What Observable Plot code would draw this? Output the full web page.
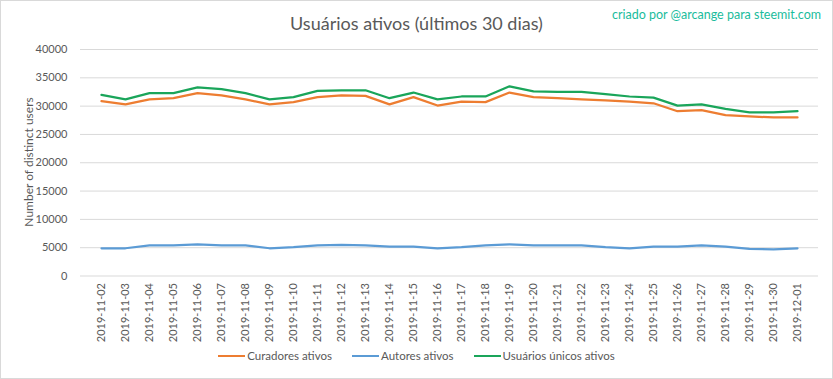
<!DOCTYPE html>
<html><head><meta charset="utf-8">
<script src="https://cdn.jsdelivr.net/npm/d3@7"></script>
<script src="https://cdn.jsdelivr.net/npm/@observablehq/plot@0.6"></script>
<style>
body{margin:0;background:#fff;font-family:Lato,"Open Sans",sans-serif;}
#wrap{position:relative;width:833px;height:379px;overflow:hidden;background:#fff;}
#frame{position:absolute;left:0;top:0;width:831px;height:377px;border:1px solid #d9d9d9;pointer-events:none;}
#title{position:absolute;left:0;top:12px;width:833px;text-align:center;font-size:18px;color:#595959;}
#credit{position:absolute;right:12px;top:7px;font-size:12.5px;color:#1abc9c;}
#ylab{position:absolute;left:28px;top:162px;transform:translate(-50%,-50%) rotate(-90deg);white-space:nowrap;font-size:12px;color:#595959;}
#legend{position:absolute;left:0;top:349px;width:833px;display:flex;justify-content:center;font-size:11.5px;color:#595959;}
.item{display:flex;align-items:center;margin:0 10px;}
.sw{display:inline-block;width:27px;height:2px;margin-right:2px;}
#chart{position:absolute;left:0;top:0;}
</style>
</head><body>
<div id="wrap">
<div id="chart"></div>
<div id="title">Usuários ativos (últimos 30 dias)</div>
<div id="credit">criado por @arcange para steemit.com</div>
<div id="ylab">Number of distinct users</div>
<div id="legend"></div>
<div id="frame"></div>
</div>
<script>
const dates = ["2019-11-02","2019-11-03","2019-11-04","2019-11-05","2019-11-06","2019-11-07","2019-11-08","2019-11-09","2019-11-10","2019-11-11","2019-11-12","2019-11-13","2019-11-14","2019-11-15","2019-11-16","2019-11-17","2019-11-18","2019-11-19","2019-11-20","2019-11-21","2019-11-22","2019-11-23","2019-11-24","2019-11-25","2019-11-26","2019-11-27","2019-11-28","2019-11-29","2019-11-30","2019-12-01"];
const curadores = [30900,30300,31200,31400,32300,31900,31200,30300,30700,31600,31900,31800,30300,31600,30100,30800,30700,32400,31600,31400,31200,31000,30800,30500,29100,29300,28400,28200,28000,28000];
const autores = [4900,4900,5400,5400,5600,5400,5400,4900,5100,5400,5500,5400,5200,5200,4900,5100,5400,5600,5400,5400,5400,5100,4900,5200,5200,5400,5200,4800,4700,4900];
const unicos = [32000,31200,32300,32300,33300,33000,32300,31200,31600,32700,32800,32800,31400,32400,31200,31700,31700,33500,32600,32500,32500,32100,31700,31500,30100,30300,29500,28900,28900,29100];
const yTicks = [0,5000,10000,15000,20000,25000,30000,35000,40000];
const seriesNames = ["Curadores ativos","Autores ativos","Usuários únicos ativos"];
const seriesColors = ["#ed7d31","#5b9bd5","#1aa55a"];
const seriesValues = [curadores, autores, unicos];

const lines = seriesValues.map((vals, i) =>
  Plot.line(dates.map((d, j) => ({date: d, value: vals[j]})), {x: "date", y: "value", stroke: seriesColors[i], strokeWidth: 2.25})
);

const chart = Plot.plot({
  width: 833, height: 345,
  marginLeft: 80, marginRight: 15, marginTop: 49, marginBottom: 69.5,
  style: {fontFamily: "Lato, 'Open Sans', sans-serif", fontSize: "11px", color: "#595959", background: "transparent"},
  x: {type: "point", domain: dates},
  y: {domain: [0, 40000]},
  marks: [
    Plot.ruleY(yTicks, {stroke: "#d9d9d9", strokeWidth: 1}),
    Plot.axisY({ticks: yTicks, tickSize: 0, tickPadding: 13, tickFormat: d => String(d), label: null, fontSize: 11}),
    Plot.axisX({tickRotate: -90, tickSize: 0, tickPadding: 7, label: null, fontSize: 11}),
    ...lines
  ]
});
document.getElementById("chart").appendChild(chart);

const legend = document.getElementById("legend");
seriesNames.forEach((n, i) => {
  const it = document.createElement("div");
  it.className = "item";
  it.innerHTML = `<span class="sw" style="background:${seriesColors[i]}"></span><span>${n}</span>`;
  legend.appendChild(it);
});
</script>
</body></html>
